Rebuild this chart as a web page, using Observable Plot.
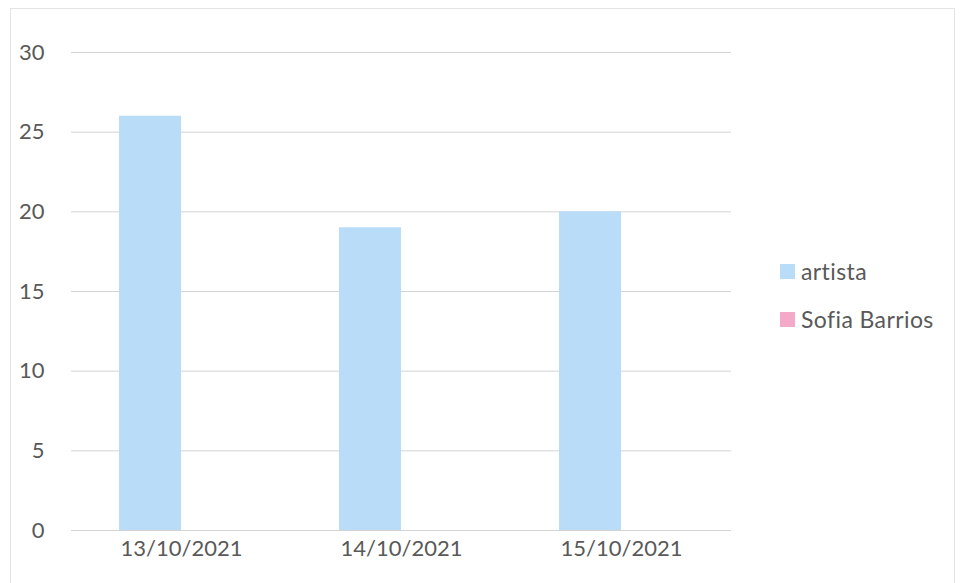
<!DOCTYPE html>
<html>
<head>
<meta charset="utf-8">
<script src="https://cdn.jsdelivr.net/npm/d3@7"></script>
<script src="https://cdn.jsdelivr.net/npm/@observablehq/plot@0.6"></script>
<style>
  html, body { margin: 0; padding: 0; background: #fff; }
  #wrap { position: relative; width: 960px; height: 583px; font-family: Lato, "Open Sans", sans-serif; }
  #border { position: absolute; left: 10px; top: 8px; width: 945px; height: 590px; border: 1px solid #e4e4e4; box-sizing: border-box; }
  #legend { position: absolute; left: 780px; top: 255px; color: #595959; font-size: 23px; letter-spacing: 0.4px; }
  .item { display: flex; align-items: center; height: 32px; margin-bottom: 16px; }
  .sw { width: 15px; height: 15px; margin-right: 6px; }
</style>
</head>
<body>
<div id="wrap">
  <div id="border"></div>
  <div id="chart"></div>
  <div id="legend"></div>
</div>
<script>
const dates = ["13/10/2021", "14/10/2021", "15/10/2021"];
const series = ["artista", "Sofia Barrios"];
const artista = [26, 19, 20];
const sofiaBarrios = [0, 0, 0];
const yTicks = [0, 5, 10, 15, 20, 25, 30];
const colors = ["#b9dcf8", "#f4a9c8"];

const data = dates.flatMap((d, i) => [
  {date: d, series: series[0], value: artista[i]},
  {date: d, series: series[1], value: sofiaBarrios[i]}
]);

const chart = Plot.plot({
  width: 960,
  height: 583,
  marginLeft: 71,
  marginRight: 229,
  marginTop: 52,
  marginBottom: 53,
  style: {fontSize: "22px", fontFamily: "Lato, 'Open Sans', sans-serif", color: "#595959", background: "transparent"},
  fx: {domain: dates, padding: 0, label: null, axis: "bottom", tickSize: 0, tickPadding: 10},
  x: {domain: series, paddingInner: 0, paddingOuter: 0.75, axis: null},
  y: {domain: [0, 30], ticks: yTicks, label: null, tickSize: 0, tickPadding: 27},
  color: {domain: series, range: colors},
  marks: [
    Plot.ruleY(yTicks, {stroke: "#d4d4d4", strokeWidth: 1}),
    Plot.barY(data, {fx: "date", x: "series", y: "value", fill: "series"})
  ]
});
document.getElementById("chart").appendChild(chart);

const legend = document.getElementById("legend");
series.forEach((s, i) => {
  const item = document.createElement("div");
  item.className = "item";
  const sw = document.createElement("span");
  sw.className = "sw";
  sw.style.background = colors[i];
  const t = document.createElement("span");
  t.textContent = s;
  item.appendChild(sw);
  item.appendChild(t);
  legend.appendChild(item);
});
</script>
</body>
</html>
